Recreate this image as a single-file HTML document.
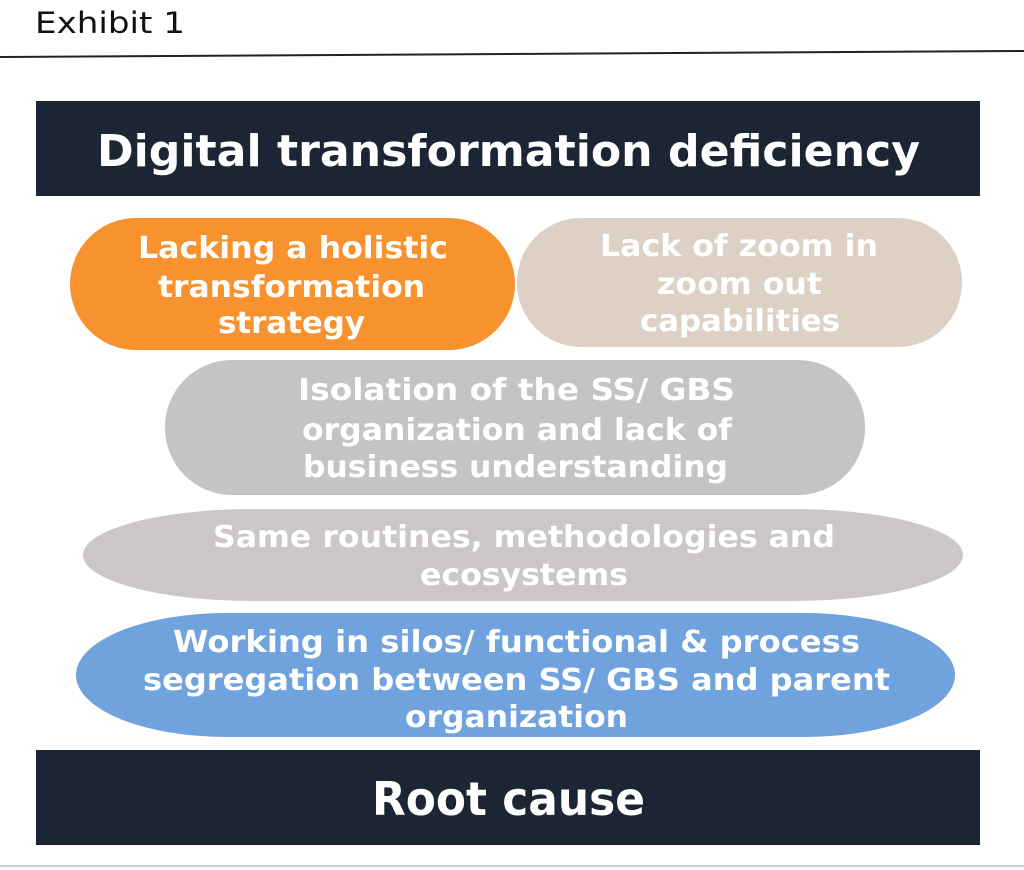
<!DOCTYPE html>
<html><head><meta charset="utf-8"><style>
html,body{margin:0;padding:0;background:#fff;}
svg{display:block;}
text{font-family:"DejaVu Sans","Liberation Sans",sans-serif;font-weight:bold;fill:#fff;}
</style></head><body>
<svg width="1024" height="870" viewBox="0 0 1024 870" xmlns="http://www.w3.org/2000/svg">
<text x="35" y="33" style="font-family:'DejaVu Sans',sans-serif;font-weight:normal;fill:#111;font-size:29px" textLength="150" lengthAdjust="spacingAndGlyphs">Exhibit 1</text>
<line x1="0" y1="57" x2="1024" y2="51" stroke="#222" stroke-width="2"/>
<rect x="36" y="101" width="944" height="95" fill="#1b2533"/>
<text x="97" y="166" font-size="44" textLength="823" lengthAdjust="spacingAndGlyphs">Digital transformation deficiency</text>
<rect x="70" y="218" width="445" height="132" rx="66" fill="#f7922e"/>
<rect x="517" y="218" width="445" height="129" rx="64" fill="#ddd1c5"/>
<g font-size="30">
<text x="138" y="258" textLength="310" lengthAdjust="spacingAndGlyphs">Lacking a holistic</text>
<text x="158" y="297" textLength="267" lengthAdjust="spacingAndGlyphs">transformation</text>
<text x="218" y="333" textLength="147" lengthAdjust="spacingAndGlyphs">strategy</text>
<text x="600" y="256" textLength="278" lengthAdjust="spacingAndGlyphs">Lack of zoom in</text>
<text x="657" y="294" textLength="165" lengthAdjust="spacingAndGlyphs">zoom out</text>
<text x="640" y="331" textLength="200" lengthAdjust="spacingAndGlyphs">capabilities</text>
</g>
<rect x="165" y="360" width="700" height="135" rx="67" fill="#c5c3c3"/>
<g font-size="30">
<text x="298" y="400" textLength="437" lengthAdjust="spacingAndGlyphs">Isolation of the SS/ GBS</text>
<text x="302" y="440" textLength="430" lengthAdjust="spacingAndGlyphs">organization and lack of</text>
<text x="303" y="477" textLength="425" lengthAdjust="spacingAndGlyphs">business understanding</text>
</g>
<rect x="83" y="509" width="880" height="92" rx="170" ry="46" fill="#ccc7c7"/>
<g font-size="30">
<text x="213" y="547" textLength="622" lengthAdjust="spacingAndGlyphs">Same routines, methodologies and</text>
<text x="420" y="585" textLength="208" lengthAdjust="spacingAndGlyphs">ecosystems</text>
</g>
<rect x="76" y="613" width="879" height="124" rx="150" ry="62" fill="#70a2dd"/>
<g font-size="30">
<text x="173" y="652" textLength="687" lengthAdjust="spacingAndGlyphs">Working in silos/ functional &amp; process</text>
<text x="143" y="690" textLength="747" lengthAdjust="spacingAndGlyphs">segregation between SS/ GBS and parent</text>
<text x="405" y="727" textLength="223" lengthAdjust="spacingAndGlyphs">organization</text>
</g>
<rect x="36" y="750" width="944" height="95" fill="#1b2533"/>
<text x="372" y="815" font-size="46" textLength="273" lengthAdjust="spacingAndGlyphs">Root cause</text>
<line x1="0" y1="866" x2="1024" y2="866" stroke="#ccc" stroke-width="2"/>
</svg>
</body></html>
